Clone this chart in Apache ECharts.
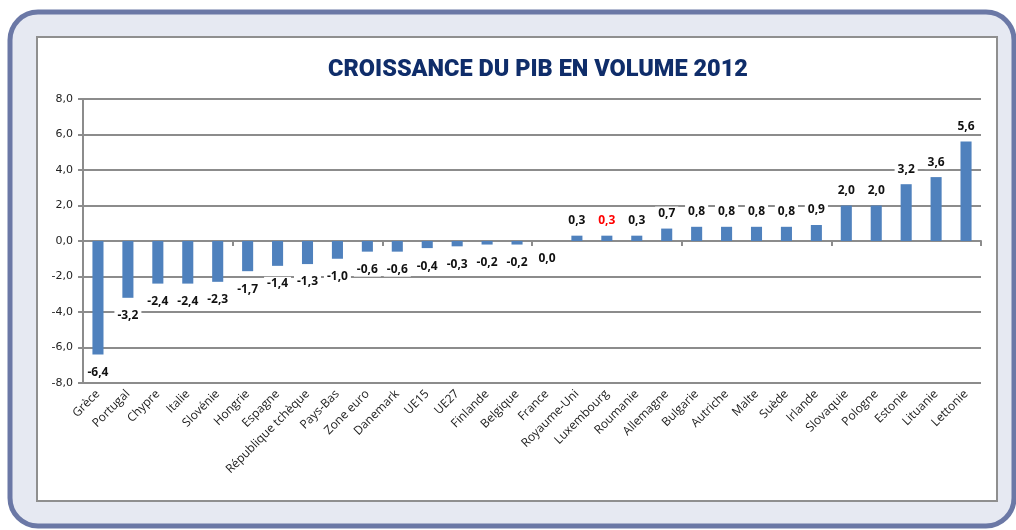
<!DOCTYPE html>
<html>
<head>
<meta charset="utf-8">
<script src="https://cdn.jsdelivr.net/npm/echarts@6/dist/echarts.min.js"></script>
<style>
html,body{margin:0;padding:0;background:#fff;}
#c{width:1016px;height:530px;}
</style>
</head>
<body>
<div id="c"></div>
<script>
const categories = ["Grèce","Portugal","Chypre","Italie","Slovénie","Hongrie","Espagne","République tchèque","Pays-Bas","Zone euro","Danemark","UE15","UE27","Finlande","Belgique","France","Royaume-Uni","Luxembourg","Roumanie","Allemagne","Bulgarie","Autriche","Malte","Suède","Irlande","Slovaquie","Pologne","Estonie","Lituanie","Lettonie"];
const values = [-6.4,-3.2,-2.4,-2.4,-2.3,-1.7,-1.4,-1.3,-1.0,-0.6,-0.6,-0.4,-0.3,-0.2,-0.2,0.0,0.3,0.3,0.3,0.7,0.8,0.8,0.8,0.8,0.9,2.0,2.0,3.2,3.6,5.6];
const highlighted = ["Luxembourg"];
const titleText = "CROISSANCE DU PIB EN VOLUME 2012";

const fmt = v => v.toFixed(1).replace('.', ',');

const data = values.map((v, i) => ({
  value: v,
  label: {
    position: v <= 0 ? 'bottom' : 'top',
    distance: v <= 0 ? 11 : 8,
    color: highlighted.includes(categories[i]) ? '#ff0000' : '#111'
  }
}));

const chart = echarts.init(document.getElementById('c'), null, {renderer: 'canvas'});
chart.setOption({
  backgroundColor: '#ffffff',
  animation: false,
  graphic: [
    {type: 'rect', z: -10, shape: {x: 10, y: 12, width: 1004, height: 514, r: 28},
     style: {fill: '#e6e9f2', stroke: '#6b78a6', lineWidth: 5}},
    {type: 'rect', z: -9, shape: {x: 37, y: 37, width: 960, height: 464},
     style: {fill: '#ffffff', stroke: '#8f8f8f', lineWidth: 2}}
  ],
  title: {
    text: titleText,
    left: 533, top: 53, textAlign: 'center',
    textStyle: {fontFamily: 'Roboto', fontWeight: 900, fontSize: 23.5, color: '#0f2d6a'}
  },
  grid: {left: 83, right: 35, top: 99, bottom: 147, containLabel: false},
  xAxis: [
    {type: 'category', data: categories, position: 'bottom',
     axisLine: {show: false, onZero: false}, axisTick: {show: false},
     axisLabel: {rotate: 45, interval: 0, margin: 9, fontFamily: 'Open Sans', fontSize: 12, color: '#222'}},
    {type: 'category', data: categories, position: 'top',
     axisLine: {show: true, onZero: true, lineStyle: {color: '#8c8c8c', width: 2}},
     axisTick: {show: true, inside: true, length: 5, lineStyle: {color: '#8c8c8c', width: 2}},
     axisLabel: {show: false}}
  ],
  yAxis: {
    type: 'value', min: -8, max: 8, interval: 2,
    axisLine: {show: true, lineStyle: {color: '#8c8c8c', width: 2}},
    axisTick: {show: true, length: 5, lineStyle: {color: '#8c8c8c', width: 2}},
    splitLine: {show: true, lineStyle: {color: '#8c8c8c', width: 2}},
    axisLabel: {formatter: v => fmt(v), fontFamily: 'DejaVu Sans', fontSize: 11, color: '#222', margin: 10}
  },
  series: [{
    type: 'bar', data: data, barWidth: '37%', xAxisIndex: 0,
    itemStyle: {color: '#4f81bd'},
    label: {
      show: true, formatter: p => fmt(p.value),
      fontFamily: 'Open Sans', fontWeight: 'bold', fontSize: 12,
      backgroundColor: '#ffffff', padding: [1, 3]
    }
  }]
});
</script>
</body>
</html>
